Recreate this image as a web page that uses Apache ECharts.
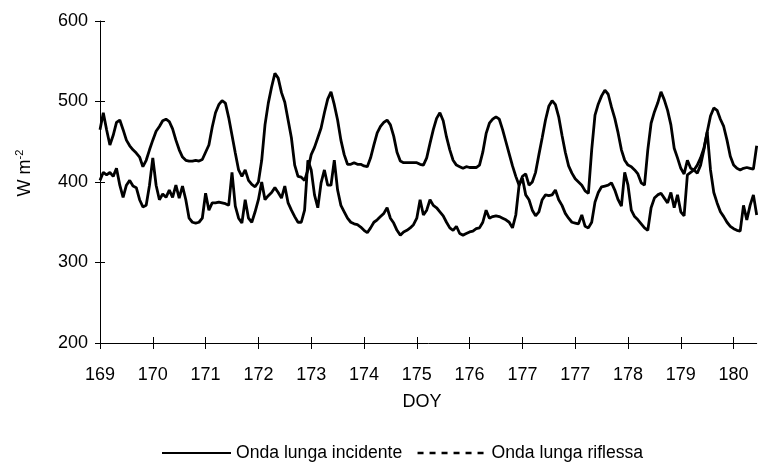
<!DOCTYPE html>
<html>
<head>
<meta charset="utf-8">
<script src="https://cdn.jsdelivr.net/npm/echarts@6/dist/echarts.min.js"></script>
<style>
  html, body { margin: 0; padding: 0; background: #fff; }
  #chart { width: 759px; height: 466px; }
</style>
</head>
<body>
<div id="chart"></div>
<script>
// Day-of-year labels, one per major tick (every 16 samples)
const tickLabels = ['169', '170', '171', '172', '173', '174', '175', '176', '177', '177', '178', '179', '180'];
const samplesPerTick = 16;

// Incoming longwave radiation (W m-2)
const incidente = [
  402, 412, 409, 412, 407, 417, 396, 381, 396, 402,
  395, 393, 378, 369, 371, 396, 430, 396, 378, 385,
  381, 390, 381, 396, 380, 395, 378, 355, 350, 349,
  350, 355, 386, 365, 374, 374, 375, 374, 373, 371,
  412, 370, 355, 349, 378, 355, 350, 363, 378, 400,
  378, 383, 387, 393, 387, 380, 395, 374, 365, 357,
  350, 350, 365, 427, 415, 384, 368, 399, 415, 396,
  396, 427, 390, 371, 363, 355, 350, 348, 347, 344,
  340, 337, 343, 350, 353, 357, 361, 368, 355, 349,
  340, 334, 338, 340, 343, 347, 355, 378, 359, 365,
  378, 371, 368, 363, 358, 350, 343, 340, 345, 336,
  334, 336, 338, 339, 342, 343, 350, 365, 355, 357,
  358, 357, 355, 353, 350, 343, 359, 396, 405, 384,
  378, 365, 358, 363, 378, 384, 383, 384, 390, 378,
  371, 361, 355, 350, 349, 348, 359, 345, 343, 350,
  375, 387, 394, 395, 396, 399, 390, 378, 370, 412,
  396, 365, 357, 353, 348, 343, 340, 368, 380, 384,
  386, 380, 374, 387, 368, 384, 363, 358, 409, 412,
  415, 421, 430, 442, 462, 415, 387, 374, 363, 357,
  350, 345, 342, 340, 339, 371, 353, 371, 384, 359
];

// Outgoing (reflected/emitted) longwave radiation (W m-2)
const riflessa = [
  465, 486, 465, 446, 458, 474, 477, 465, 452, 445,
  440, 436, 431, 419, 427, 440, 452, 463, 469, 476,
  478, 475, 466, 452, 440, 431, 427, 426, 426, 427,
  426, 428, 437, 446, 468, 486, 496, 501, 498, 480,
  458, 436, 415, 407, 415, 402, 397, 394, 400, 427,
  471, 498, 518, 535, 529, 511, 499, 477, 455, 421,
  407, 406, 402, 415, 434, 443, 455, 467, 486, 503,
  512, 496, 477, 452, 434, 422, 422, 424, 422, 422,
  420, 419, 430, 446, 461, 469, 474, 477, 471, 457,
  437, 426, 424, 424, 424, 424, 424, 422, 421, 430,
  448, 465, 479, 486, 476, 456, 440, 427, 421, 419,
  417, 419, 418, 418, 418, 421, 437, 460, 473, 478,
  481, 478, 465, 450, 435, 420, 407, 396, 407, 410,
  396, 400, 412, 434, 455, 477, 494, 501, 496, 481,
  458, 437, 420, 411, 404, 400, 396, 389, 386, 440,
  483, 497, 507, 514, 509, 493, 479, 461, 440, 427,
  421, 419, 415, 410, 399, 396, 440, 473, 487, 498,
  512, 502, 489, 471, 442, 430, 417, 410, 427, 417,
  415, 411, 421, 440, 462, 482, 492, 489, 478, 469,
  452, 432, 421, 417, 415, 417, 418, 417, 416, 445
];

const yMin = 200, yMax = 600, yStep = 100;

const samples = incidente.map((_, i) => String(i));
const FONT = '"Liberation Sans", Arial, sans-serif';
const INK = '#000';
const LABEL_SIZE = 18;
const plotBox = { left: 100, right: 2.3, top: 21, bottom: 123, containLabel: false };

const chart = echarts.init(document.getElementById('chart'), null, { renderer: 'canvas' });

chart.setOption({
  animation: false,
  backgroundColor: '#fff',
  textStyle: { fontFamily: FONT },
  // grid 0 holds the data; grid 1 overlays it only to draw the inner half of the cross ticks
  grid: [Object.assign({}, plotBox), Object.assign({}, plotBox)],
  title: {
    text: 'DOY',
    left: 417,
    top: 388,
    textAlign: 'center',
    textStyle: { fontSize: LABEL_SIZE, fontWeight: 'normal', fontFamily: FONT, color: INK }
  },
  legend: {
    left: 161,
    top: 444,
    padding: 0,
    itemWidth: 69,
    itemHeight: 14,
    itemGap: 14,
    textStyle: { fontSize: 17.6, fontFamily: FONT, color: INK },
    data: [
      { name: 'Onda lunga incidente', itemStyle: { opacity: 0 }, lineStyle: { width: 2, type: 'solid' } },
      { name: 'Onda lunga riflessa', itemStyle: { opacity: 0 }, lineStyle: { width: 2.5, type: [6, 6] } }
    ]
  },
  xAxis: [
    {
      gridIndex: 0,
      type: 'category',
      data: samples,
      boundaryGap: false,
      axisLine: { show: true, lineStyle: { color: INK, width: 1 } },
      axisTick: { show: true, interval: samplesPerTick - 1, length: 6, lineStyle: { color: INK, width: 1 } },
      axisLabel: {
        interval: samplesPerTick - 1,
        margin: 23,
        fontSize: LABEL_SIZE,
        fontFamily: FONT,
        color: INK,
        formatter: (v, i) => tickLabels[i / samplesPerTick]
      },
      splitLine: { show: false }
    },
    {
      gridIndex: 1,
      type: 'category',
      data: samples,
      boundaryGap: false,
      axisLine: { show: false },
      axisTick: { show: true, inside: true, interval: samplesPerTick - 1, length: 6, lineStyle: { color: INK, width: 1 } },
      axisLabel: { show: false },
      splitLine: { show: false }
    }
  ],
  yAxis: [
    {
      gridIndex: 0,
      type: 'value',
      min: yMin,
      max: yMax,
      interval: yStep,
      axisLine: { show: true, lineStyle: { color: INK, width: 1 } },
      axisTick: { show: true, length: 5, lineStyle: { color: INK, width: 1 } },
      axisLabel: { margin: 12, fontSize: LABEL_SIZE, fontFamily: FONT, color: INK },
      splitLine: { show: false },
      name: '{b|W m}{s|-2}',
      nameLocation: 'middle',
      nameRotate: 90,
      nameGap: 64,
      nameTextStyle: {
        padding: [0, 0, 0, 18],
        rich: {
          b: { fontSize: LABEL_SIZE, fontFamily: FONT, color: INK, lineHeight: 22 },
          s: { fontSize: 11, fontFamily: FONT, color: INK, verticalAlign: 'top', lineHeight: 22 }
        }
      }
    },
    {
      gridIndex: 1,
      type: 'value',
      min: yMin,
      max: yMax,
      interval: yStep,
      axisLine: { show: false },
      axisTick: { show: true, inside: true, length: 5, lineStyle: { color: INK, width: 1 } },
      axisLabel: { show: false },
      splitLine: { show: false }
    }
  ],
  series: [
    {
      name: 'Onda lunga incidente',
      type: 'line',
      xAxisIndex: 0,
      yAxisIndex: 0,
      data: incidente,
      symbol: 'none',
      lineStyle: { color: INK, width: 2.8, type: 'solid' },
      itemStyle: { color: INK },
      z: 3
    },
    {
      name: 'Onda lunga riflessa',
      type: 'line',
      xAxisIndex: 0,
      yAxisIndex: 0,
      data: riflessa,
      symbol: 'none',
      lineStyle: { color: INK, width: 2.8, type: 'solid' },
      itemStyle: { color: INK },
      z: 2
    }
  ]
});
</script>
</body>
</html>
